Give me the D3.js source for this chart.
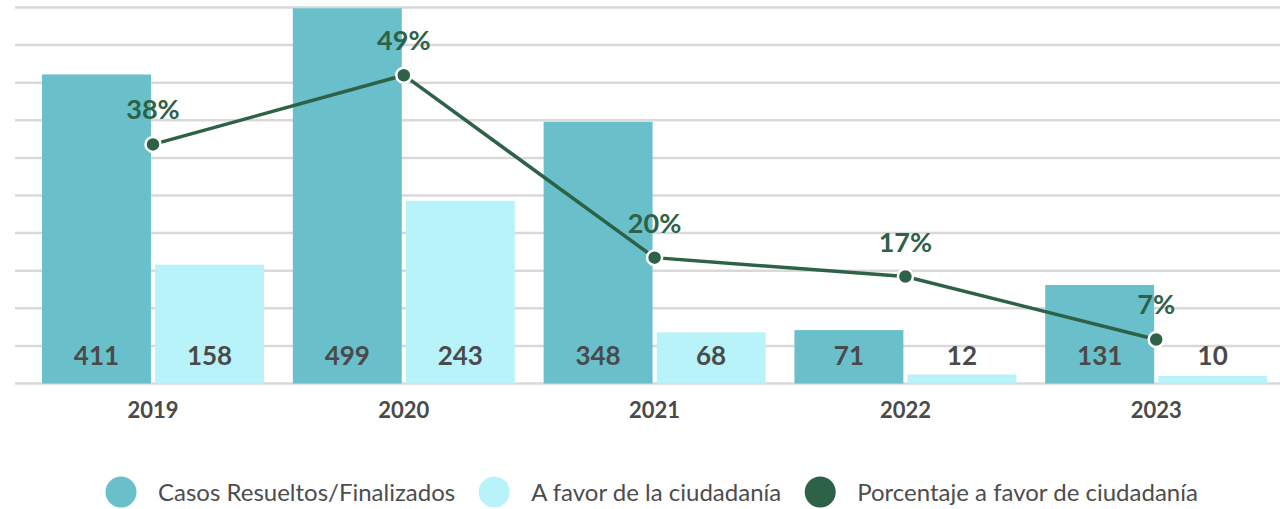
<!DOCTYPE html>
<html>
<head>
<meta charset="utf-8">
<script src="https://cdn.jsdelivr.net/npm/d3@7"></script>
<style>
  body { margin: 0; background: #fff; }
  svg { display: block; font-family: Lato, "Open Sans", sans-serif; }
</style>
</head>
<body>
<div id="chart"></div>
<script>
// Casos resueltos vs a favor de la ciudadania, 2019-2023

const years = ["2019", "2020", "2021", "2022", "2023"];
const resueltos = [411, 499, 348, 71, 131];
const aFavor = [158, 243, 68, 12, 10];
const porcentaje = [0.38, 0.49, 0.20, 0.17, 0.07];
const seriesNames = ["Casos Resueltos/Finalizados", "A favor de la ciudadanía", "Porcentaje a favor de ciudadanía"];

const width = 1280, height = 509;
const colDark = "#69c0ca", colLight = "#b9f3fa", colLine = "#2e6248";

let svg = d3.select("#chart").append("svg")
	.attr("width", width)
	.attr("height", height);

// Scales
let x0 = d3.scaleBand()
	.domain(years)
	.range([27.6, 1281.6])
	.paddingInner(0.115)
	.paddingOuter(0.0575);

let x1 = d3.scaleBand()
	.domain(["resueltos", "aFavor"])
	.range([0, x0.bandwidth()])
	.paddingInner(0.036);

let y = d3.scaleLinear().domain([0, 500]).range([383.5, 7.5]);
let yPct = d3.scaleLinear().domain([0, 0.6]).range([383.5, 6]);

// Gridlines
svg.append("g")
	.selectAll("line")
	.data(d3.range(0, 501, 50))
	.enter().append("line")
	.attr("x1", 15)
	.attr("x2", width)
	.attr("y1", d => y(d))
	.attr("y2", d => y(d))
	.attr("stroke", "#d9d9d9")
	.attr("stroke-width", 2.5);

// Bars
let rows = years.map((yr, i) => ({ year: yr, resueltos: resueltos[i], aFavor: aFavor[i] }));

let groups = svg.selectAll(".grp")
	.data(rows)
	.enter().append("g")
	.attr("class", "grp")
	.attr("transform", d => "translate(" + x0(d.year) + ",0)");

let bars = groups.selectAll("g")
	.data(d => [{ key: "resueltos", value: d.resueltos }, { key: "aFavor", value: d.aFavor }])
	.enter().append("g");

bars.append("rect")
	.attr("x", d => x1(d.key))
	.attr("width", x1.bandwidth())
	.attr("y", d => y(d.value))
	.attr("height", d => y(0) - y(d.value))
	.attr("fill", d => d.key === "resueltos" ? colDark : colLight);

bars.append("text")
	.attr("x", d => x1(d.key) + x1.bandwidth() / 2)
	.attr("y", y(0) - 18.5)
	.attr("text-anchor", "middle")
	.attr("font-size", 26)
	.attr("font-weight", 700)
	.attr("fill", "#4a4a4a")
	.text(d => d.value);

// Year labels under the bars
svg.append("g")
	.attr("transform", "translate(0," + y(0) + ")")
	.call(d3.axisBottom(x0).tickSize(0).tickPadding(19))
	.call(g => g.select(".domain").remove())
	.call(g => g.selectAll("text")
		.attr("font-family", "Lato, sans-serif")
		.attr("font-size", 22)
		.attr("font-weight", 700)
		.attr("fill", "#4a4a4a"));

// Line for percentage
let pts = years.map((yr, i) => ({ year: yr, p: porcentaje[i] }));
let px = d => x0(d.year) + x0.bandwidth() / 2;

svg.append("path")
	.datum(pts)
	.attr("fill", "none")
	.attr("stroke", colLine)
	.attr("stroke-width", 3.5)
	.attr("d", d3.line().x(px).y(d => yPct(d.p)));

svg.selectAll(".dot")
	.data(pts)
	.enter().append("circle")
	.attr("class", "dot")
	.attr("cx", px)
	.attr("cy", d => yPct(d.p))
	.attr("r", 7.5)
	.attr("fill", colLine)
	.attr("stroke", "#fff")
	.attr("stroke-width", 2.5);

svg.selectAll(".pct")
	.data(pts)
	.enter().append("text")
	.attr("class", "pct")
	.attr("x", px)
	.attr("y", d => yPct(d.p) - 25)
	.attr("text-anchor", "middle")
	.attr("font-size", 27)
	.attr("font-weight", 700)
	.attr("fill", colLine)
	.text(d => Math.round(d.p * 100) + "%");

// Legend
let legend = svg.append("g").attr("transform", "translate(0,492)");
let legColors = [colDark, colLight, colLine];
let lx = 106;
seriesNames.forEach((name, i) => {
	let item = legend.append("g").attr("transform", "translate(" + lx + ",0)");
	item.append("circle")
		.attr("cx", 15)
		.attr("cy", 0)
		.attr("r", 15.5)
		.attr("fill", legColors[i]);
	let t = item.append("text")
		.attr("x", 52)
		.attr("y", 9)
		.attr("font-size", 24)
		.attr("fill", "#4d4d4d")
		.text(name);
	lx += 52 + t.node().getComputedTextLength() + 24;
});
</script>
</body>
</html>
